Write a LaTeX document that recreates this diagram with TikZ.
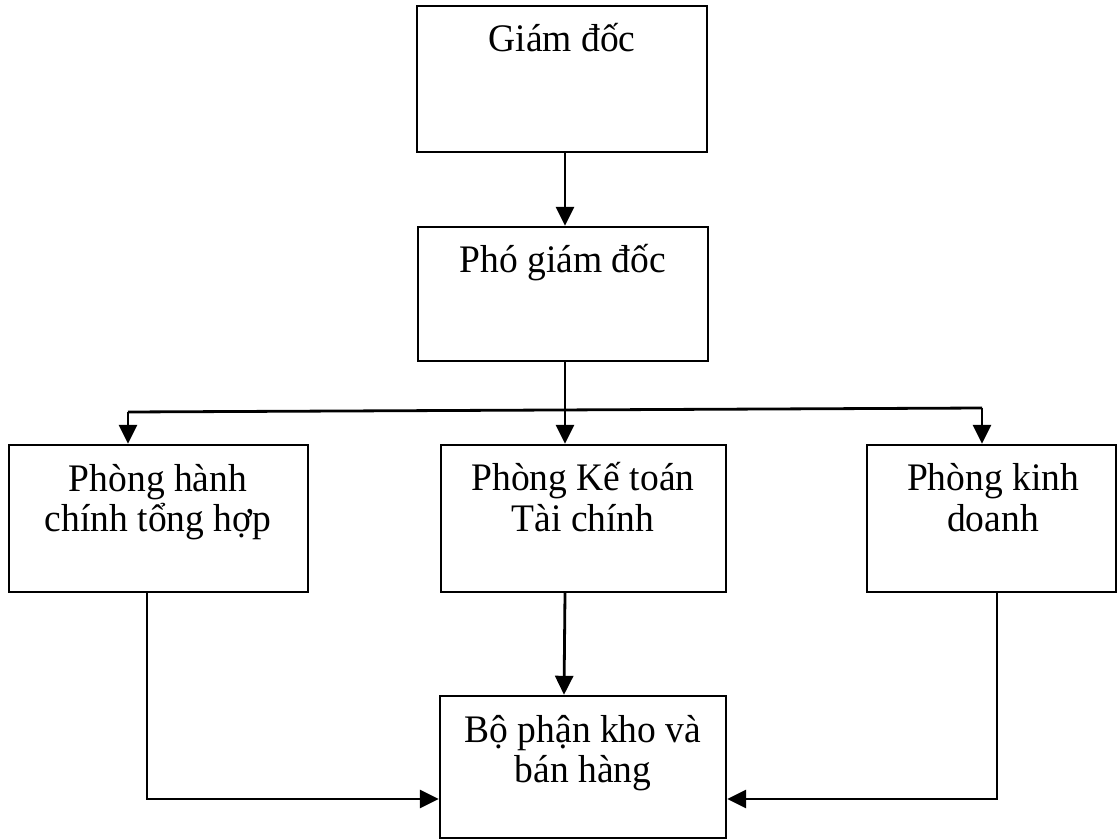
\documentclass[tikz,border=0pt]{standalone}
\usepackage{fontspec}
\setmainfont{Liberation Serif}
\usetikzlibrary{arrows.meta}
\newcommand{\tallt}[1]{\scalebox{1}[1.04]{#1}}
\begin{document}
\begin{tikzpicture}[x=1pt,y=-1pt,
  box/.style={draw=black,line width=2.4pt,rectangle,inner sep=0pt},
  lbl/.style={anchor=base,inner sep=0pt,font=\fontsize{37.5pt}{41pt}\selectfont},
  conn/.style={line width=2.8pt},
  arr/.style={line width=2.8pt,-{Triangle[length=19pt,width=18pt]}}]
\useasboundingbox (0,0) rectangle (1117,840);
% boxes
\node[box,minimum width=290pt,minimum height=146pt] (gd) at (562,79) {};
\node[box,minimum width=290pt,minimum height=134pt] (pgd) at (563,294) {};
\node[box,minimum width=299pt,minimum height=147pt] (hc) at (158.5,518.5) {};
\node[box,minimum width=285pt,minimum height=147pt] (kt) at (583.5,518.5) {};
\node[box,minimum width=249pt,minimum height=147pt] (kd) at (991.5,518.5) {};
\node[box,minimum width=286pt,minimum height=142pt] (bp) at (583,767) {};
% labels
\node[lbl] (t1) at (562,52) {\tallt{Giám đốc}};
\node[lbl] (t2) at (563,272) {\tallt{Phó giám đốc}};
\node[lbl] (t3a) at (158,491) {\tallt{Phòng hành}};
\node[lbl] (t3b) at (158,531) {\tallt{chính tổng hợp}};
\node[lbl] (t4a) at (583,490) {\tallt{Phòng Kế toán}};
\node[lbl] (t4b) at (583,531) {\tallt{Tài chính}};
\node[lbl] (t5a) at (993,490) {\tallt{Phòng kinh}};
\node[lbl] (t5b) at (993,531) {\tallt{doanh}};
\node[lbl] (t6a) at (583,742) {\tallt{Bộ phận kho và}};
\node[lbl] (t6b) at (583,782) {\tallt{bán hàng}};
% connectors
\draw[arr] ([xshift=3pt]gd.south) -- ([xshift=2pt]pgd.north);
\draw[arr] ([xshift=2pt]pgd.south) -- ([xshift=-18.5pt]kt.north);
\coordinate (hl) at (128,412);
\coordinate (hr) at (982,408);
\draw[conn] (hl) -- (hr);
\draw[arr] (hl) -- ([xshift=-30.5pt]hc.north);
\draw[arr] (hr) -- ([xshift=-9.5pt]kd.north);
\draw[arr] ([xshift=-18.5pt]kt.south) -- ([xshift=-19pt]bp.north);
\draw[arr] ([xshift=-11.5pt]hc.south) |- ([yshift=-32pt]bp.west);
\draw[arr] ([xshift=5.5pt]kd.south) |- ([yshift=-32pt]bp.east);
\end{tikzpicture}
\end{document}
